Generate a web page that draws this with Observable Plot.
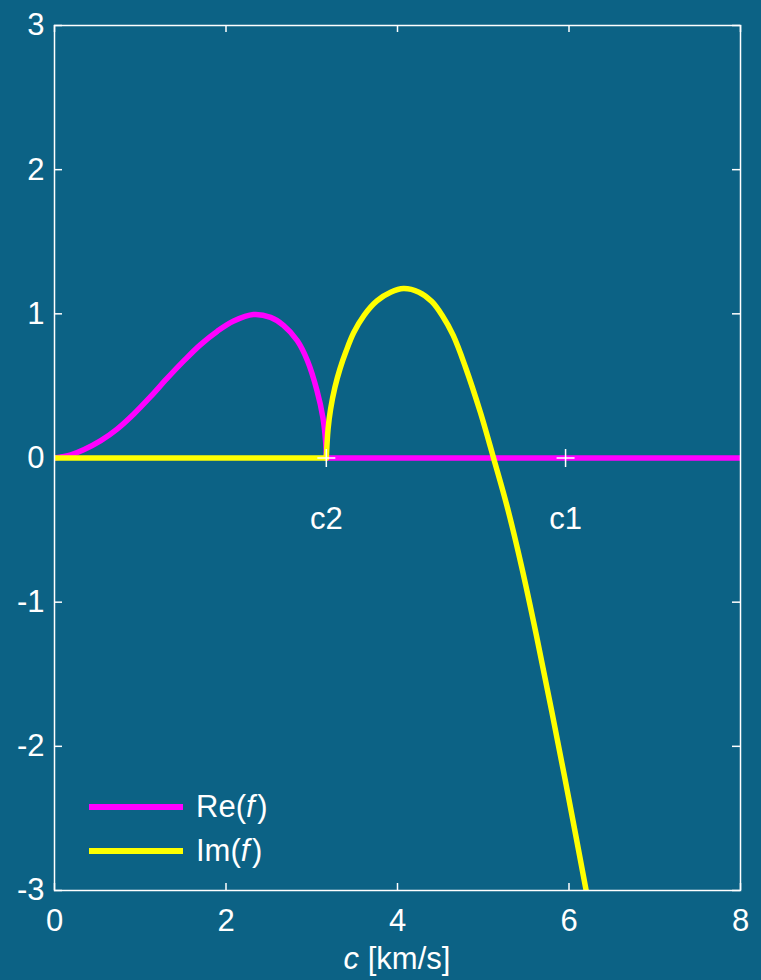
<!DOCTYPE html>
<html>
<head>
<meta charset="utf-8">
<script src="https://cdn.jsdelivr.net/npm/d3@7"></script>
<script src="https://cdn.jsdelivr.net/npm/@observablehq/plot@0.6"></script>
<style>
  html, body { margin: 0; padding: 0; background: #0c6285; }
  #wrap { position: relative; width: 761px; height: 980px; background: #0c6285;
          font-family: "Liberation Sans", Arial, Helvetica, sans-serif; color: white; }
  .ov { position: absolute; font-size: 31px; line-height: 1; white-space: nowrap; }
</style>
</head>
<body>
<div id="wrap"></div>
<script>
// ---- data ----
// Re(f): arch from 0 to c2, then zero from c2 to 8
const reC = [0, 0.19, 0.34, 0.54, 0.73, 0.925, 1.12, 1.31, 1.51, 1.70, 1.90, 2.09, 2.32, 2.52, 2.67, 2.83, 2.95, 3.06, 3.13, 3.165, 3.17];
const reV = [0, 0.022, 0.057, 0.12, 0.20, 0.305, 0.425, 0.55, 0.675, 0.785, 0.88, 0.95, 0.995, 0.975, 0.92, 0.815, 0.675, 0.47, 0.28, 0.09, 0];
const reZeroC = [3.17, 8];
const reZeroV = [0, 0];

// Im(f): zero from 0 to c2, then arch and descent
const imZeroC = [0, 3.17];
const imZeroV = [0, 0];
const imC = [3.17, 3.19, 3.22, 3.27, 3.33, 3.40, 3.49, 3.61, 3.76, 3.92, 4.07, 4.25, 4.40, 4.52, 4.65, 4.79, 4.97, 5.12, 5.28, 5.45, 5.62, 5.80, 6.00, 6.20];
const imV = [0, 0.20, 0.34, 0.49, 0.62, 0.74, 0.87, 0.99, 1.09, 1.15, 1.175, 1.15, 1.085, 0.99, 0.85, 0.635, 0.31, 0, -0.34, -0.76, -1.23, -1.76, -2.37, -3.0];

const markerLabels = ["c2", "c1"];
const markerC = [3.17, 5.96];

const xTicks = [0, 2, 4, 6, 8];
const yTicks = [-3, -2, -1, 0, 1, 2, 3];

const seriesNames = ["Re", "Im"];
const seriesColors = ["#ff00ff", "#ffff00"];

// ---- build tables ----
const toRows = (cs, vs, part) => cs.map((c, i) => ({c, v: vs[i], part}));
const reData = [...toRows(reC, reV, "arch"), ...toRows(reZeroC, reZeroV, "zero")];
const imData = [...toRows(imZeroC, imZeroV, "zero"), ...toRows(imC, imV, "arch")];
const markers = markerC.map((c, i) => ({c, label: markerLabels[i], v: 0}));

const W = 761, H = 980, mL = 54, mR = 21, mT = 25, mB = 90;
const innerW = W - mL - mR, innerH = H - mT - mB;

const plusSymbol = {
  draw(ctx) { ctx.moveTo(-9, 0); ctx.lineTo(9, 0); ctx.moveTo(0, -9); ctx.lineTo(0, 9); }
};

const chart = Plot.plot({
  width: W, height: H,
  marginLeft: mL, marginRight: mR, marginTop: mT, marginBottom: mB,
  style: { background: "#0c6285", color: "white", fontSize: "31px",
           fontFamily: '"Liberation Sans", Arial, Helvetica, sans-serif', overflow: "visible" },
  x: { domain: [0, 8] },
  y: { domain: [-3, 3] },
  marks: [
    Plot.axisX({ ticks: xTicks, tickSize: 0, tickPadding: 18, tickFormat: d => String(d), label: null }),
    Plot.axisY({ ticks: yTicks, tickSize: 0, tickPadding: 10, tickFormat: d => String(d), label: null }),
    Plot.ruleX(xTicks, { x: d => d, insetTop: innerH - 7, stroke: "white", strokeWidth: 1.5 }),
    Plot.ruleX(xTicks, { x: d => d, insetBottom: innerH - 7, stroke: "white", strokeWidth: 1.5 }),
    Plot.ruleY(yTicks, { y: d => d, insetRight: innerW - 8, stroke: "white", strokeWidth: 1.5 }),
    Plot.ruleY(yTicks, { y: d => d, insetLeft: innerW - 8, stroke: "white", strokeWidth: 1.5 }),
    Plot.line(reData, { x: "c", y: "v", z: "part", stroke: seriesColors[0], strokeWidth: 5.5, curve: "catmull-rom", clip: true }),
    Plot.line(imData, { x: "c", y: "v", z: "part", stroke: seriesColors[1], strokeWidth: 5.5, curve: "catmull-rom", clip: true }),
    Plot.dot(markers, { x: "c", y: "v", symbol: plusSymbol, stroke: "white", strokeWidth: 1.5, fill: "none" }),
    Plot.text(markers, { x: "c", y: "v", text: "label", dy: 61, fill: "white", fontSize: 31 }),
    Plot.frame({ stroke: "white", strokeWidth: 1.5 })
  ]
});

const wrap = document.getElementById("wrap");
wrap.appendChild(chart);

// axis label
const xl = document.createElement("div");
xl.className = "ov";
xl.style.left = mL + "px"; xl.style.width = innerW + "px"; xl.style.textAlign = "center";
xl.style.top = "943px";
xl.innerHTML = "<i>c</i> [km/s]";
wrap.appendChild(xl);

// legend
const legY = [807, 851];
const legLabels = ["Re(<i>f</i>&#8202;)", "Im(<i>f</i>&#8202;)"];
seriesNames.forEach((name, i) => {
  const sw = document.createElement("div");
  sw.style.position = "absolute";
  sw.style.left = "89px"; sw.style.width = "94px";
  sw.style.top = (legY[i] - 2.75) + "px"; sw.style.height = "5.5px";
  sw.style.background = seriesColors[i];
  wrap.appendChild(sw);
  const t = document.createElement("div");
  t.className = "ov";
  t.style.left = "196px";
  t.style.top = (legY[i] - 16) + "px";
  t.innerHTML = legLabels[i];
  wrap.appendChild(t);
});
</script>
</body>
</html>
